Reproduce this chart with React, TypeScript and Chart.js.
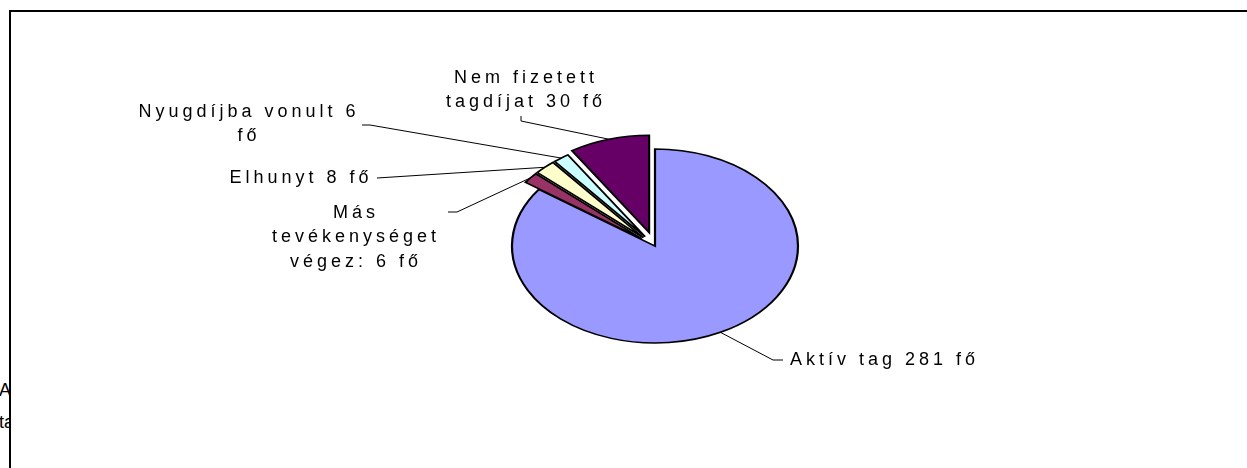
import React, { useEffect, useRef } from "react";
import { Chart, registerables } from "chart.js";

Chart.register(...registerables);

// ---- data ----
const categories = [
  "Aktív tag 281 fő",
  "Más tevékenységet végez: 6 fő",
  "Elhunyt 8 fő",
  "Nyugdíjba vonult 6 fő",
  "Nem fizetett tagdíjat 30 fő",
];
const labelLines = [
  ["Aktív tag 281 fő"],
  ["Más", "tevékenységet", "végez: 6 fő"],
  ["Elhunyt 8 fő"],
  ["Nyugdíjba vonult 6", "fő"],
  ["Nem fizetett", "tagdíjat 30 fő"],
];
const values = [281, 6, 8, 6, 30];

// ---- styles / layout ----
const sliceColors = ["#9999FF", "#993366", "#FFFFCC", "#CCFFFF", "#660066"];
const explode = [0, 17, 17, 17, 21];
const W = 1247;
const H = 468;
const RADIUS = 143;
const TILT = 97 / 143; // vertical squash of the pie
const FONT = '18px "Liberation Sans", Arial, sans-serif';
const LETTER_SPACING = 4;
const LINE_H = 24.5;

// label text positions and leader start points (label side)
const LABEL_LAYOUT = [
  { x: 790, y: 360, align: "left", leader: [[783, 360], [773, 360]] },
  { x: 354, y: 213, align: "center", leader: [[448, 212], [457, 212]] },
  { x: 299, y: 178, align: "center", leader: [[377, 178]] },
  { x: 247, y: 112, align: "center", leader: [[362, 125], [370, 125]] },
  { x: 524, y: 78, align: "center", leader: [[521, 116], [521, 121]] },
];

const ellipsePlugin = {
  id: "ellipsePie",
  beforeDatasetsDraw(chart: any) {
    const meta = chart.getDatasetMeta(0);
    meta.data.forEach((arc: any, i: number) => {
      if (arc.__wrapped) return;
      const orig = arc.draw;
      arc.draw = function (this: any, ctx: CanvasRenderingContext2D, ...rest: any[]) {
        const m = (this.startAngle + this.endAngle) / 2;
        const e = explode[i] || 0;
        ctx.save();
        ctx.translate(this.x, this.y);
        ctx.scale(1, TILT);
        ctx.translate(-this.x, -this.y);
        ctx.translate(Math.cos(m) * e, Math.sin(m) * e);
        orig.call(this, ctx, ...rest);
        ctx.restore();
      };
      arc.__wrapped = true;
    });
  },
  afterDraw(chart: any) {
    const ctx: any = chart.ctx;
    const meta = chart.getDatasetMeta(0);
    ctx.save();
    ctx.font = FONT;
    ctx.letterSpacing = LETTER_SPACING + "px";
    ctx.fillStyle = "#000";
    ctx.textBaseline = "middle";
    meta.data.forEach((arc: any, i: number) => {
      const m = (arc.startAngle + arc.endAngle) / 2;
      const rr = arc.outerRadius + (explode[i] || 0);
      const ax = arc.x + Math.cos(m) * rr;
      const ay = arc.y + Math.sin(m) * rr * TILT;
      const L = LABEL_LAYOUT[i];
      const pts = [...L.leader, [ax, ay]];
      ctx.beginPath();
      ctx.lineWidth = 1;
      ctx.strokeStyle = "#000";
      pts.forEach((p, j) => (j === 0 ? ctx.moveTo(p[0], p[1]) : ctx.lineTo(p[0], p[1])));
      ctx.stroke();
      ctx.textAlign = L.align;
      const dx = L.align === "center" ? LETTER_SPACING / 2 : 0;
      labelLines[i].forEach((t, j) => ctx.fillText(t, L.x + dx, L.y + j * LINE_H));
    });
    ctx.restore();
  },
};

export default function App() {
  const ref = useRef<HTMLCanvasElement | null>(null);
  useEffect(() => {
    if (!ref.current) return;
    const chart = new Chart(ref.current, {
      type: "pie",
      data: {
        labels: categories,
        datasets: [
          {
            data: values,
            backgroundColor: sliceColors,
            borderColor: "#000",
            borderWidth: 2.2,
            borderJoinStyle: "miter",
            clip: false,
          } as any,
        ],
      },
      options: {
        responsive: false,
        animation: false,
        events: [],
        radius: RADIUS,
        rotation: 0,
        layout: { padding: { left: 63, top: 24, right: 0, bottom: 0 } },
        plugins: {
          legend: { display: false },
          tooltip: { enabled: false },
          title: { display: false },
        },
      } as any,
      plugins: [ellipsePlugin],
    });
    return () => chart.destroy();
  }, []);

  return (
    <div style={{ position: "absolute", left: 0, top: 0, width: W, height: H, background: "#fff", overflow: "hidden" }}>
      <div
        style={{
          position: "absolute",
          left: 0,
          top: 374,
          width: 9,
          overflow: "hidden",
          font: '18px "Liberation Sans", Arial, sans-serif',
          lineHeight: "32px",
          whiteSpace: "nowrap",
        }}
      >
        <div style={{ marginLeft: -1 }}>Aktív</div>
        <div style={{ marginLeft: -1 }}>tagok</div>
      </div>
      <canvas ref={ref} width={W} height={H} style={{ position: "absolute", left: 0, top: 0 }} />
      <div
        style={{
          position: "absolute",
          left: 9,
          top: 10,
          width: W,
          height: H,
          borderLeft: "2px solid #000",
          borderTop: "2px solid #000",
          pointerEvents: "none",
        }}
      />
    </div>
  );
}
